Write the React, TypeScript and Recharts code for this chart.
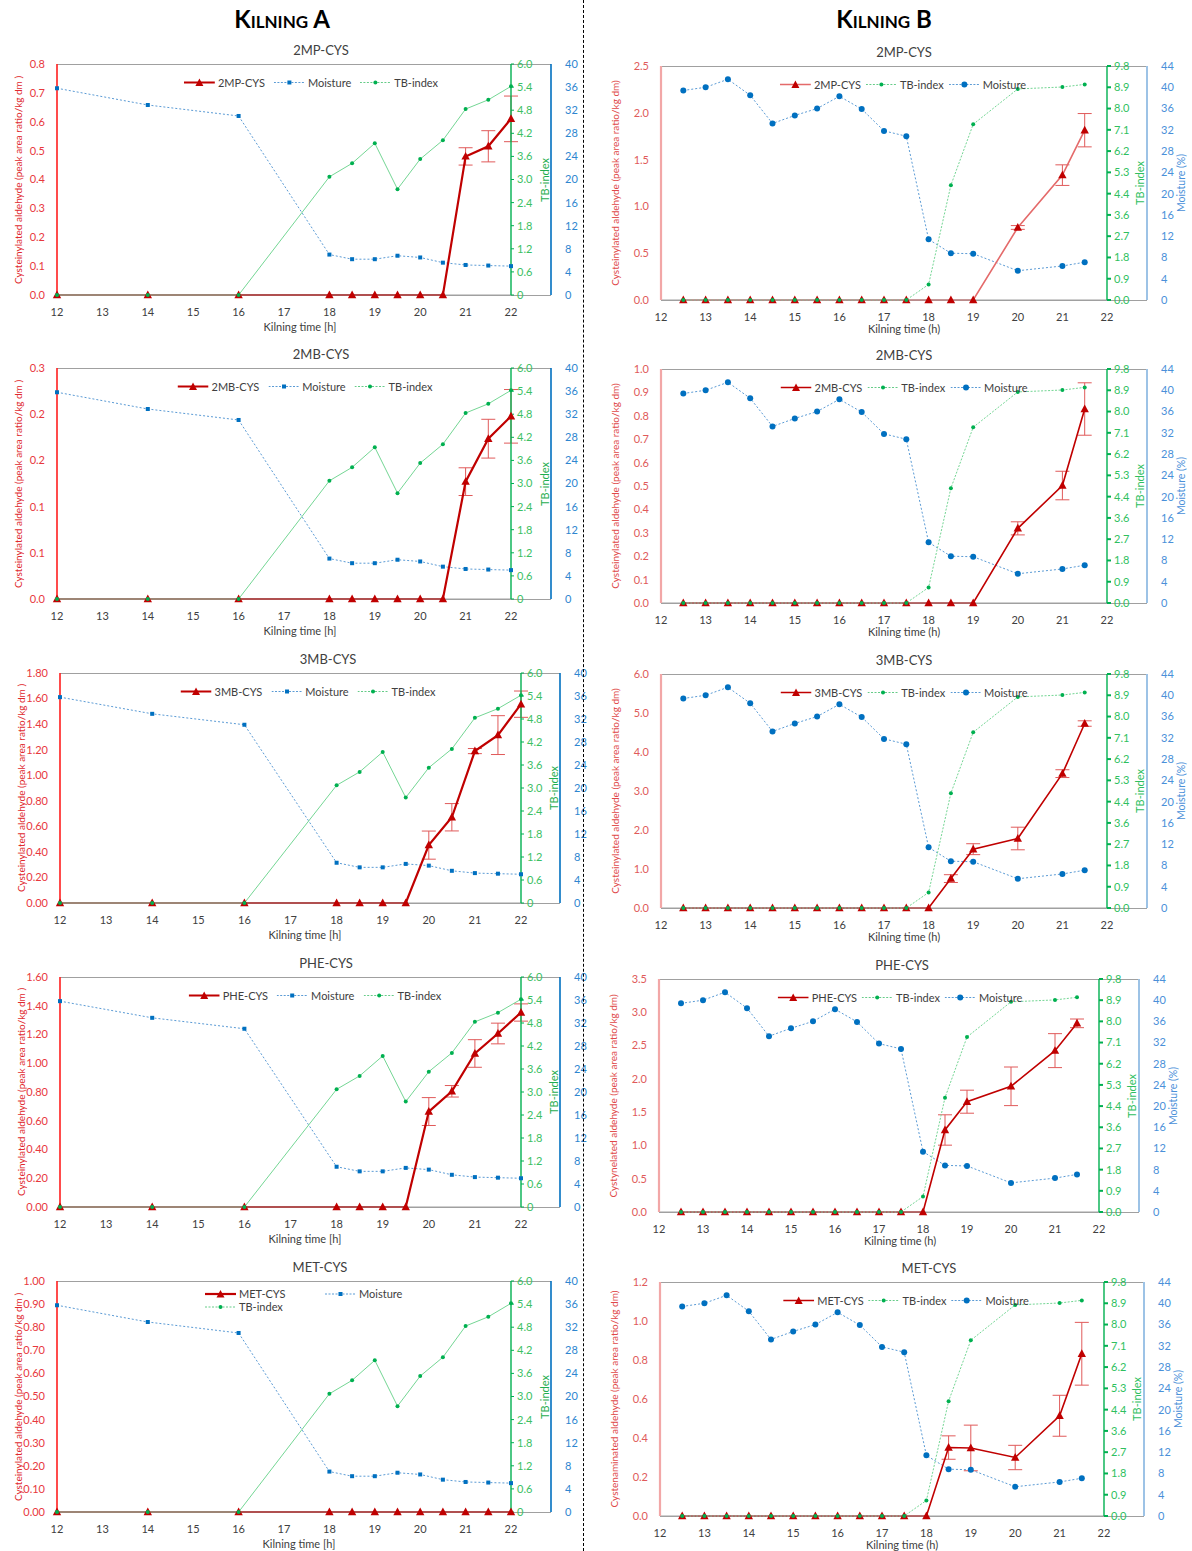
import React from 'react';
import { ComposedChart, Line, XAxis, YAxis, ErrorBar } from 'recharts';

const FONT = 'Lato, "Open Sans", sans-serif';

// ---------- Kilning A data ----------
const timeA = [12, 14, 16, 18, 18.5, 19, 19.5, 20, 20.5, 21, 21.5, 22];
const moistureA = [35.8, 32.9, 31.0, 7.0, 6.2, 6.2, 6.8, 6.5, 5.6, 5.2, 5.1, 5.0];
const tbIndexA = [0, 0, 0, 3.07, 3.42, 3.94, 2.75, 3.53, 4.02, 4.83, 5.07, 5.42];
const mp2A = [0, 0, 0, 0, 0, 0, 0, 0, 0, 0.48, 0.515, 0.61];
const mp2ErrA = [null, null, null, null, null, null, null, null, null, 0.03, 0.054, 0.079];
const mb2A = [0, 0, 0, 0, 0, 0, 0, 0, 0, 0.127, 0.1735, 0.1977];
const mb2ErrA = [null, null, null, null, null, null, null, null, null, 0.015, 0.021, 0.029];
const mb3A = [0, 0, 0, 0, 0, 0, 0, 0.453, 0.671, 1.189, 1.314, 1.556];
const mb3ErrA = [null, null, null, null, null, null, null, 0.11, 0.107, 0.02, 0.152, 0.103];
const pheA = [0, 0, 0, 0, 0, 0, 0, 0.664, 0.805, 1.068, 1.207, 1.353];
const pheErrA = [null, null, null, null, null, null, null, 0.097, 0.04, 0.096, 0.072, 0.06];
const metA = [0, 0, 0, 0, 0, 0, 0, 0, 0, 0, 0, 0];
const metErrA = [null, null, null, null, null, null, null, null, null, null, null, null];

// ---------- Kilning B data ----------
const timeB = [12.5, 13, 13.5, 14, 14.5, 15, 15.5, 16, 16.5, 17, 17.5, 18, 18.5, 19, 20, 21, 21.5];
const moistureB = [39.4, 40.0, 41.5, 38.5, 33.2, 34.7, 36.0, 38.3, 35.9, 31.8, 30.8, 11.4, 8.8, 8.7, 5.5, 6.4, 7.1];
const tbIndexB = [0, 0, 0, 0, 0, 0, 0, 0, 0, 0, 0, 0.65, 4.81, 7.36, 8.84, 8.92, 9.03];
const mp2B = [0, 0, 0, 0, 0, 0, 0, 0, 0, 0, 0, 0, 0, 0, 0.775, 1.334, 1.814];
const mp2ErrB = [null, null, null, null, null, null, null, null, null, null, null, null, null, null, 0.02, 0.11, 0.178];
const mb2B = [0, 0, 0, 0, 0, 0, 0, 0, 0, 0, 0, 0, 0, 0, 0.319, 0.502, 0.829];
const mb2ErrB = [null, null, null, null, null, null, null, null, null, null, null, null, null, null, 0.028, 0.061, 0.112];
const mb3B = [0, 0, 0, 0, 0, 0, 0, 0, 0, 0, 0, 0, 0.754, 1.508, 1.782, 3.445, 4.73];
const mb3ErrB = [null, null, null, null, null, null, null, null, null, null, null, null, 0.1, 0.14, 0.29, 0.1, 0.07];
const pheB = [0, 0, 0, 0, 0, 0, 0, 0, 0, 0, 0, 0, 1.232, 1.657, 1.888, 2.424, 2.834];
const pheErrB = [null, null, null, null, null, null, null, null, null, null, null, null, 0.228, 0.173, 0.29, 0.255, 0.065];
const metB = [0, 0, 0, 0, 0, 0, 0, 0, 0, 0, 0, 0, 0.351, 0.349, 0.30, 0.514, 0.832];
const metErrB = [null, null, null, null, null, null, null, null, null, null, null, null, 0.06, 0.117, 0.0625, 0.105, 0.161];

// ---------- ticks ----------
const xTicks = [12, 13, 14, 15, 16, 17, 18, 19, 20, 21, 22];
const tbTicksA = [0, 0.6, 1.2, 1.8, 2.4, 3.0, 3.6, 4.2, 4.8, 5.4, 6.0];
const tbLabelsA = ['0', '0.6', '1.2', '1.8', '2.4', '3.0', '3.6', '4.2', '4.8', '5.4', '6.0'];
const tbTicksB = [0, 0.8909, 1.7818, 2.6727, 3.5636, 4.4545, 5.3455, 6.2364, 7.1273, 8.0182, 8.9091, 9.8];
const tbLabelsB = ['0.0', '0.9', '1.8', '2.7', '3.6', '4.4', '5.3', '6.2', '7.1', '8.0', '8.9', '9.8'];
const moistTicksA = [0, 4, 8, 12, 16, 20, 24, 28, 32, 36, 40];
const moistTicksB = [0, 4, 8, 12, 16, 20, 24, 28, 32, 36, 40, 44];

const ticksA2MP = [0, 0.1, 0.2, 0.3, 0.4, 0.5, 0.6, 0.7, 0.8];
const labelsA2MP = ['0.0', '0.1', '0.2', '0.3', '0.4', '0.5', '0.6', '0.7', '0.8'];
const ticksA2MB = [0, 0.05, 0.1, 0.15, 0.2, 0.25];
const labelsA2MB = ['0.0', '0.1', '0.1', '0.2', '0.2', '0.3'];
const ticksA3MB = [0, 0.2, 0.4, 0.6, 0.8, 1.0, 1.2, 1.4, 1.6, 1.8];
const labelsA3MB = ['0.00', '0.20', '0.40', '0.60', '0.80', '1.00', '1.20', '1.40', '1.60', '1.80'];
const ticksAPHE = [0, 0.2, 0.4, 0.6, 0.8, 1.0, 1.2, 1.4, 1.6];
const labelsAPHE = ['0.00', '0.20', '0.40', '0.60', '0.80', '1.00', '1.20', '1.40', '1.60'];
const ticksAMET = [0, 0.1, 0.2, 0.3, 0.4, 0.5, 0.6, 0.7, 0.8, 0.9, 1.0];
const labelsAMET = ['0.00', '0.10', '0.20', '0.30', '0.40', '0.50', '0.60', '0.70', '0.80', '0.90', '1.00'];
const ticksB2MP = [0, 0.5, 1.0, 1.5, 2.0, 2.5];
const labelsB2MP = ['0.0', '0.5', '1.0', '1.5', '2.0', '2.5'];
const ticksB2MB = [0, 0.1, 0.2, 0.3, 0.4, 0.5, 0.6, 0.7, 0.8, 0.9, 1.0];
const labelsB2MB = ['0.0', '0.1', '0.2', '0.3', '0.4', '0.5', '0.6', '0.7', '0.8', '0.9', '1.0'];
const ticksB3MB = [0, 1, 2, 3, 4, 5, 6];
const labelsB3MB = ['0.0', '1.0', '2.0', '3.0', '4.0', '5.0', '6.0'];
const ticksBPHE = [0, 0.5, 1.0, 1.5, 2.0, 2.5, 3.0, 3.5];
const labelsBPHE = ['0.0', '0.5', '1.0', '1.5', '2.0', '2.5', '3.0', '3.5'];
const ticksBMET = [0, 0.2, 0.4, 0.6, 0.8, 1.0, 1.2];
const labelsBMET = ['0.0', '0.2', '0.4', '0.6', '0.8', '1.0', '1.2'];

// ---------- colours ----------
const RED = '#c00000';
const BLUE = '#0070c0';
const GREEN = '#00b050';

type Variant = 'A' | 'B';
interface PanelCfg {
  variant: Variant;
  title: string;
  name: string;
  values: number[];
  errors: (number | null)[];
  leftTicks: number[];
  leftLabels: string[];
  yLabel: string;
  plotLeft: number;
  plotRight: number;
  blueX: number;
  plotTop: number;
  plotBottom: number;
  titleX: number;
  xTitleX: number;
  legendX: number;
  lightRed?: boolean;
  twoRow?: boolean;
}

const Tri = (props: any) => {
  const { cx, cy, index } = props;
  if (cx == null || cy == null) return <g key={index} />;
  return <path key={index} d={`M${cx},${cy - 4.5}L${cx + 4.2},${cy + 3.2}L${cx - 4.2},${cy + 3.2}Z`} fill={RED} />;
};
const Sq = (props: any) => {
  const { cx, cy, index } = props;
  if (cx == null || cy == null) return <g key={index} />;
  return <rect key={index} x={cx - 2} y={cy - 2} width={4} height={4} fill={BLUE} />;
};
const BlueDot = (props: any) => {
  const { cx, cy, index } = props;
  if (cx == null || cy == null) return <g key={index} />;
  return <circle key={index} cx={cx} cy={cy} r={3} fill={BLUE} />;
};
const GreenDot = (props: any) => {
  const { cx, cy, index } = props;
  if (cx == null || cy == null) return <g key={index} />;
  return <circle key={index} cx={cx} cy={cy} r={2} fill={GREEN} />;
};

function Icon({ kind, variant, lightRed }: { kind: string; variant: Variant; lightRed?: boolean }) {
  return (
    <svg width={31} height={10} style={{ display: 'block' }}>
      {kind === 'red' && (
        <>
          <line x1={0} y1={5} x2={31} y2={5} stroke={lightRed ? '#e46a6a' : RED} strokeWidth={variant === 'A' ? 2.2 : 1.6} />
          <path d="M15.5,1 L19.5,8.5 L11.5,8.5Z" fill={RED} />
        </>
      )}
      {kind === 'm' && (
        <>
          <line x1={0} y1={5} x2={31} y2={5} stroke="#5b9bd5" strokeWidth={1} strokeDasharray="2 1.5" />
          {variant === 'A' ? <rect x={13.5} y={3} width={4} height={4} fill={BLUE} /> : <circle cx={15.5} cy={5} r={3} fill={BLUE} />}
        </>
      )}
      {kind === 'tb' && (
        <>
          <line x1={0} y1={5} x2={31} y2={5} stroke="#66cc88" strokeWidth={1} strokeDasharray="2 1.5" />
          <circle cx={15.5} cy={5} r={2} fill={GREEN} />
        </>
      )}
    </svg>
  );
}

function LegendItem({ kind, label, variant, lightRed }: any) {
  return (
    <div style={{ display: 'flex', alignItems: 'center', gap: 3 }}>
      <Icon kind={kind} variant={variant} lightRed={lightRed} />
      <span>{label}</span>
    </div>
  );
}

function Panel({ cfg }: { cfg: PanelCfg }) {
  const A = cfg.variant === 'A';
  const time = A ? timeA : timeB;
  const tb = A ? tbIndexA : tbIndexB;
  const moist = A ? moistureA : moistureB;
  const data = time.map((t, i) => ({ t, v: cfg.values[i], e: cfg.errors[i], tb: tb[i], m: moist[i] }));
  const LEFT_W = 45;
  const RIGHT_W = 38;
  const TOP_M = 10;
  const X_H = 32;
  const chartLeft = cfg.plotLeft - LEFT_W;
  const chartTop = cfg.plotTop - TOP_M;
  const greenW = cfg.blueX - cfg.plotRight;
  const chartW = cfg.blueX + RIGHT_W - chartLeft;
  const chartH = cfg.plotBottom - chartTop + X_H;
  const midY = (cfg.plotTop + cfg.plotBottom) / 2;
  const leftMax = cfg.leftTicks[cfg.leftTicks.length - 1];
  const tickFont = { fontSize: 11, fontFamily: FONT };
  const redAxis = A ? '#ff1f1f' : '#f2a7a7';
  const redText = A ? '#e8383d' : '#e05a5a';
  const greenAxis = GREEN;
  const greenText = A ? '#3cc063' : '#2fbf5f';
  const blueAxis = A ? BLUE : '#9dc3e6';
  const blueText = A ? '#2e86d0' : '#4a90d9';
  const frame = '#a0a0a0';

  return (
    <>
      <div style={{ position: 'absolute', left: cfg.plotLeft, top: cfg.plotTop, width: cfg.blueX - cfg.plotLeft, height: 0, borderTop: `1px solid ${frame}` }} />
      <div style={{ position: 'absolute', left: cfg.plotLeft, top: cfg.plotBottom, width: cfg.blueX - cfg.plotLeft, height: 0, borderTop: `1px solid ${frame}` }} />
      <div style={{ position: 'absolute', left: chartLeft, top: chartTop }}>
        <ComposedChart width={chartW} height={chartH} data={data} margin={{ top: TOP_M, right: 0, bottom: 0, left: 0 }}>
          <XAxis
            dataKey="t"
            type="number"
            domain={[12, 22]}
            ticks={xTicks}
            height={X_H}
            axisLine={{ stroke: frame }}
            tickLine={false}
            tickMargin={7}
            tick={{ ...tickFont, fill: '#404040' }}
            interval={0}
          />
          <YAxis
            yAxisId="left"
            width={LEFT_W}
            domain={[0, leftMax]}
            ticks={cfg.leftTicks}
            interval={0}
            tickFormatter={(_v: any, i: number) => cfg.leftLabels[i]}
            axisLine={{ stroke: redAxis, strokeWidth: A ? 1.6 : 2.2 }}
            tickLine={false}
            tickMargin={6}
            tick={{ ...tickFont, fill: redText }}
          />
          <YAxis
            yAxisId="b_m"
            orientation="right"
            width={RIGHT_W}
            domain={[0, A ? 40 : 44]}
            ticks={A ? moistTicksA : moistTicksB}
            interval={0}
            axisLine={{ stroke: blueAxis, strokeWidth: A ? 1.6 : 2 }}
            tickLine={false}
            tickMargin={8}
            tick={{ ...tickFont, fill: blueText }}
          />
          <YAxis
            yAxisId="a_tb"
            orientation="right"
            width={greenW}
            domain={[0, A ? 6 : 9.8]}
            ticks={A ? tbTicksA : tbTicksB}
            interval={0}
            tickFormatter={(_v: any, i: number) => (A ? tbLabelsA : tbLabelsB)[i]}
            axisLine={{ stroke: greenAxis, strokeWidth: 1.4 }}
            tickLine={{ stroke: greenAxis, strokeWidth: A ? 1 : 2 }}
            tickSize={A ? 3 : 4}
            tickMargin={3}
            tick={{ ...tickFont, fill: greenText }}
          />
          <Line
            yAxisId="b_m"
            dataKey="m"
            stroke="#5b9bd5"
            strokeWidth={1}
            strokeDasharray="2 2"
            dot={A ? Sq : BlueDot}
            isAnimationActive={false}
          />
          <Line
            yAxisId="left"
            dataKey="v"
            stroke={cfg.lightRed ? '#e46a6a' : RED}
            strokeWidth={A ? 2.2 : 1.6}
            dot={Tri}
            isAnimationActive={false}
          >
            <ErrorBar dataKey="e" width={7} stroke="#e05a5a" strokeWidth={1} direction="y" />
          </Line>
          <Line
            yAxisId="a_tb"
            dataKey="tb"
            stroke="#74d694"
            strokeWidth={1}
            strokeDasharray={A ? undefined : '2 1.5'}
            dot={GreenDot}
            isAnimationActive={false}
          />
        </ComposedChart>
      </div>
      <div style={{ position: 'absolute', left: cfg.titleX, top: cfg.plotTop - 14, transform: 'translate(-50%,-50%)', fontFamily: FONT, fontSize: 13, color: '#404040', whiteSpace: 'nowrap' }}>
        {cfg.title}
      </div>
      {cfg.twoRow ? (
        <div style={{ position: 'absolute', left: cfg.legendX, top: cfg.plotTop + 6, display: 'grid', gridTemplateColumns: '120px auto', rowGap: 0, fontFamily: FONT, fontSize: 11, color: '#404040', whiteSpace: 'nowrap' }}>
          <LegendItem kind="red" label={cfg.name} variant="A" />
          <LegendItem kind="m" label="Moisture" variant="A" />
          <LegendItem kind="tb" label="TB-index" variant="A" />
        </div>
      ) : (
        <div style={{ position: 'absolute', left: cfg.legendX, top: cfg.plotTop + 18, transform: 'translate(-50%,-50%)', display: 'flex', gap: A ? 9 : 5, fontFamily: FONT, fontSize: 11, color: '#404040', whiteSpace: 'nowrap' }}>
          <LegendItem kind="red" label={cfg.name} variant={cfg.variant} lightRed={cfg.lightRed} />
          {A ? <LegendItem kind="m" label="Moisture" variant="A" /> : <LegendItem kind="tb" label="TB-index" variant="B" />}
          {A ? <LegendItem kind="tb" label="TB-index" variant="A" /> : <LegendItem kind="m" label="Moisture" variant="B" />}
        </div>
      )}
      <div style={{ position: 'absolute', left: cfg.xTitleX, top: cfg.plotBottom + (A ? 31 : 28), transform: 'translate(-50%,-50%)', fontFamily: FONT, fontSize: 11, color: '#404040', whiteSpace: 'nowrap' }}>
        {A ? 'Kilning time [h]' : 'Kilning time (h)'}
      </div>
      <div style={{ position: 'absolute', left: cfg.plotLeft - (A ? 39 : 46), top: midY, transform: 'translate(-50%,-50%) rotate(-90deg)', fontFamily: FONT, fontSize: 10, color: A ? '#e0282d' : '#e04848', whiteSpace: 'nowrap' }}>
        {cfg.yLabel}
      </div>
      <div style={{ position: 'absolute', left: cfg.blueX - (A ? 7 : 8), top: midY, transform: 'translate(-50%,-50%) rotate(-90deg)', fontFamily: FONT, fontSize: 11, color: A ? '#1fae4f' : '#2fbf5f', whiteSpace: 'nowrap' }}>
        TB-index
      </div>
      {!A && (
        <div style={{ position: 'absolute', left: cfg.blueX + 34, top: midY, transform: 'translate(-50%,-50%) rotate(-90deg)', fontFamily: FONT, fontSize: 10.5, color: '#4a90d9', whiteSpace: 'nowrap' }}>
          Moisture (%)
        </div>
      )}
    </>
  );
}

const yLabA = 'Cysteinylated  aldehyde (peak area ratio/kg dm )';
const panels: PanelCfg[] = [
  { variant: 'A', title: '2MP-CYS', name: '2MP-CYS', values: mp2A, errors: mp2ErrA, leftTicks: ticksA2MP, leftLabels: labelsA2MP, yLabel: yLabA, plotLeft: 57, plotRight: 511, blueX: 551, plotTop: 64, plotBottom: 295, titleX: 321, xTitleX: 300, legendX: 311 },
  { variant: 'A', title: '2MB-CYS', name: '2MB-CYS', values: mb2A, errors: mb2ErrA, leftTicks: ticksA2MB, leftLabels: labelsA2MB, yLabel: yLabA, plotLeft: 57, plotRight: 511, blueX: 551, plotTop: 368, plotBottom: 599, titleX: 321, xTitleX: 300, legendX: 305 },
  { variant: 'A', title: '3MB-CYS', name: '3MB-CYS', values: mb3A, errors: mb3ErrA, leftTicks: ticksA3MB, leftLabels: labelsA3MB, yLabel: yLabA, plotLeft: 60, plotRight: 521, blueX: 560, plotTop: 673, plotBottom: 903, titleX: 328, xTitleX: 305, legendX: 308 },
  { variant: 'A', title: 'PHE-CYS', name: 'PHE-CYS', values: pheA, errors: pheErrA, leftTicks: ticksAPHE, leftLabels: labelsAPHE, yLabel: yLabA, plotLeft: 60, plotRight: 521, blueX: 560, plotTop: 977, plotBottom: 1207, titleX: 326, xTitleX: 305, legendX: 315 },
  { variant: 'A', title: 'MET-CYS', name: 'MET-CYS', values: metA, errors: metErrA, leftTicks: ticksAMET, leftLabels: labelsAMET, yLabel: yLabA, plotLeft: 57, plotRight: 511, blueX: 551, plotTop: 1281, plotBottom: 1512, titleX: 320, xTitleX: 299, legendX: 205, twoRow: true },
  { variant: 'B', title: '2MP-CYS', name: '2MP-CYS', values: mp2B, errors: mp2ErrB, leftTicks: ticksB2MP, leftLabels: labelsB2MP, yLabel: 'Cysteinylated aldehyde (peak area ratio/kg dm)', plotLeft: 661, plotRight: 1107, blueX: 1147, plotTop: 66, plotBottom: 300, titleX: 904, xTitleX: 904, legendX: 903, lightRed: true },
  { variant: 'B', title: '2MB-CYS', name: '2MB-CYS', values: mb2B, errors: mb2ErrB, leftTicks: ticksB2MB, leftLabels: labelsB2MB, yLabel: 'Cysteinylated aldehyde (peak area ratio/kg dm)', plotLeft: 661, plotRight: 1107, blueX: 1147, plotTop: 369, plotBottom: 603, titleX: 904, xTitleX: 904, legendX: 904 },
  { variant: 'B', title: '3MB-CYS', name: '3MB-CYS', values: mb3B, errors: mb3ErrB, leftTicks: ticksB3MB, leftLabels: labelsB3MB, yLabel: 'Cysteinylated  aldehyde (peak area ratio/kg dm)', plotLeft: 661, plotRight: 1107, blueX: 1147, plotTop: 674, plotBottom: 908, titleX: 904, xTitleX: 904, legendX: 904 },
  { variant: 'B', title: 'PHE-CYS', name: 'PHE-CYS', values: pheB, errors: pheErrB, leftTicks: ticksBPHE, leftLabels: labelsBPHE, yLabel: 'Cystynelated  aldehyde (peak area ratio/kg dm)', plotLeft: 659, plotRight: 1099, blueX: 1139, plotTop: 979, plotBottom: 1212, titleX: 902, xTitleX: 900, legendX: 900 },
  { variant: 'B', title: 'MET-CYS', name: 'MET-CYS', values: metB, errors: metErrB, leftTicks: ticksBMET, leftLabels: labelsBMET, yLabel: 'Cystenaminated aldehyde (peak area ratio/kg dm)', plotLeft: 660, plotRight: 1104, blueX: 1144, plotTop: 1282, plotBottom: 1516, titleX: 929, xTitleX: 902, legendX: 906 },
];

export default function App() {
  return (
    <div style={{ position: 'absolute', left: 0, top: 0, width: 1192, height: 1551, background: '#fff', overflow: 'hidden' }}>
      <div style={{ position: 'absolute', left: 282, top: 18, transform: 'translate(-50%,-50%)', fontFamily: FONT, fontWeight: 700, fontSize: 24, fontVariant: 'small-caps', color: '#000', whiteSpace: 'nowrap' }}>
        Kilning A
      </div>
      <div style={{ position: 'absolute', left: 884, top: 18, transform: 'translate(-50%,-50%)', fontFamily: FONT, fontWeight: 700, fontSize: 24, fontVariant: 'small-caps', color: '#000', whiteSpace: 'nowrap' }}>
        Kilning B
      </div>
      {panels.map((p, i) => (
        <Panel key={i} cfg={p} />
      ))}
      <div style={{ position: 'absolute', left: 583, top: 0, width: 0, height: 1551, borderLeft: '1px dashed #000' }} />
    </div>
  );
}
